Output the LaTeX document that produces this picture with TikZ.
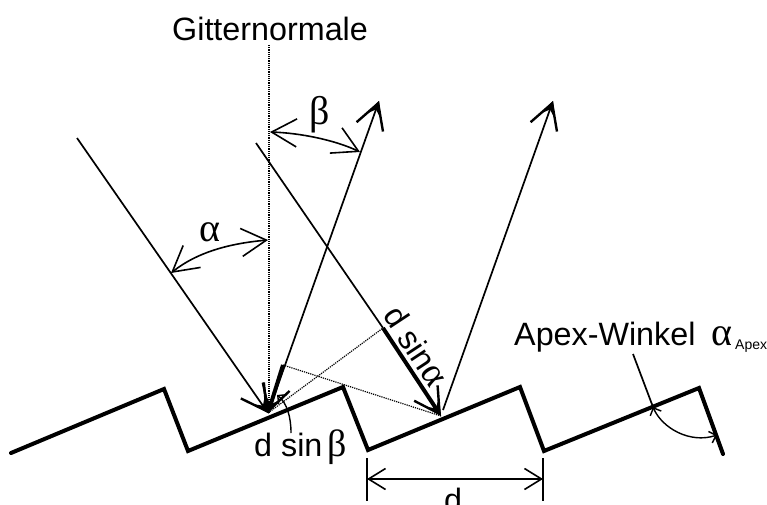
\documentclass[tikz,border=0pt]{standalone}
\usepackage{fontspec}
\setmainfont{Liberation Sans}
\newfontfamily\greekfont{Liberation Serif}
\usetikzlibrary{arrows.meta}
\tikzset{
  x=1pt,y=-1pt,
  grating/.style={line width=4pt,line join=miter,line cap=round},
  ray/.style={line width=1.7pt},
  thickray/.style={line width=4pt},
  dotline/.style={line width=1.2pt,densely dotted},
  bighead/.style={-{Straight Barb[length=25pt,width=28pt,line width=2.4pt,sep=-17pt]Stealth[length=17pt,width=17pt,inset=8pt]}},
  anglearc/.style={line width=1.6pt,{Straight Barb[length=25pt,width=28pt]}-{Straight Barb[length=25pt,width=28pt]}},
  dimarrow/.style={line width=1.6pt,{Straight Barb[length=17pt,width=21pt]}-{Straight Barb[length=17pt,width=21pt]}},
  smallarc/.style={line width=1.4pt},
  smallbarb/.tip={Straight Barb[length=6pt,width=12pt]},
  txt/.style={inner sep=0pt,font=\fontsize{32.3}{32}\selectfont},
  gk/.style={inner sep=0pt,font=\fontsize{40}{40}\selectfont\greekfont},
}
\begin{document}
\begin{tikzpicture}
\useasboundingbox (0,0) rectangle (767,505);
\clip (0,0) rectangle (767,505);
% grating
\coordinate (s0) at (11,453); \coordinate (s1) at (164,389); \coordinate (s2) at (188,451);
\coordinate (s3) at (343,387); \coordinate (s4) at (368,450); \coordinate (s5) at (520,387);
\coordinate (s6) at (544,451); \coordinate (s7) at (699,388); \coordinate (s8) at (723,454);
\draw[grating] (s0)--(s1)--(s2)--(s3)--(s4)--(s5)--(s6)--(s7)--(s8);
% normal
\coordinate (n0) at (269,45); \coordinate (n1) at (269,413);
\draw[dotline] (n0)--(n1);
% rays
\coordinate (a0) at (77,138); \coordinate (a1) at (268,413);
\coordinate (b0) at (256,143); \coordinate (b1) at (441,416); \coordinate (b2) at (383,328);
\coordinate (c1) at (379,101); \coordinate (c2) at (283,365);
\coordinate (e0) at (443,410); \coordinate (e1) at (553,101);
\draw[ray,bighead] (a0)--(a1);
\draw[ray] (b0)--(b2);
\draw[thickray,bighead] (b2)--(b1);
\draw[ray,bighead] (a1)--(c1);
\draw[thickray,bighead] (c2)--(a1);
\draw[ray,bighead] (e0)--(e1);
% dotted construction
\draw[dotline] (a1)--(b2);
\draw[dotline] (c2)--(b1);
% angles
\coordinate (aa) at (171,273); \coordinate (ab) at (268,240);
\coordinate (ba) at (270,132); \coordinate (bb) at (360,152);
\draw[anglearc] (aa) .. controls (200,250) and (235,243) .. (ab);
\draw[anglearc] (ba) .. controls (300,133) and (335,140) .. (bb);
% dimension
\coordinate (d0) at (367,458); \coordinate (d1) at (367,501);
\coordinate (d2) at (543,458); \coordinate (d3) at (543,501);
\coordinate (d4) at (367,479); \coordinate (d5) at (543,479);
\draw[ray] (d0)--(d1);
\draw[ray] (d2)--(d3);
\draw[dimarrow] (d4)--(d5);
% apex
\coordinate (p0) at (633,354); \coordinate (p1) at (653,407); \coordinate (p2) at (717,435);
\draw[ray] (p0)--(p1);
\draw[smallarc,{smallbarb}-{smallbarb}] (p1) .. controls (662,428) and (690,444) .. (p2);
% d sin beta leader
\coordinate (q0) at (291,433); \coordinate (q1) at (277,395);
\draw[smallarc,-{smallbarb}] (q0) .. controls (291,417) and (287,403) .. (q1);
% labels
\node[txt,anchor=base west] (title) at (172,41) {Gitternormale};
\node[gk,anchor=base] (alpha) at (210,241) {α};
\node[gk,anchor=base] (beta) at (320,125) {β};
\node[txt,anchor=base west] (dsb) at (254,456) {d sin\,{\greekfont\fontsize{38}{38}\selectfont β}};
\node[txt,anchor=center,rotate=-56.6] (dsa) at (416,346) {d sin{\greekfont\fontsize{38}{38}\selectfont α}};
\node[txt,anchor=base west] (apex) at (514,345) {Apex-Winkel};
\node[gk,anchor=base west] (apa) at (711,345) {α};
\node[inner sep=0pt,anchor=base west,font=\fontsize{14}{14}\selectfont] (aps) at (735,349) {Apex};
\node[txt,anchor=base] (dd) at (453,511) {d};
\end{tikzpicture}
\end{document}
